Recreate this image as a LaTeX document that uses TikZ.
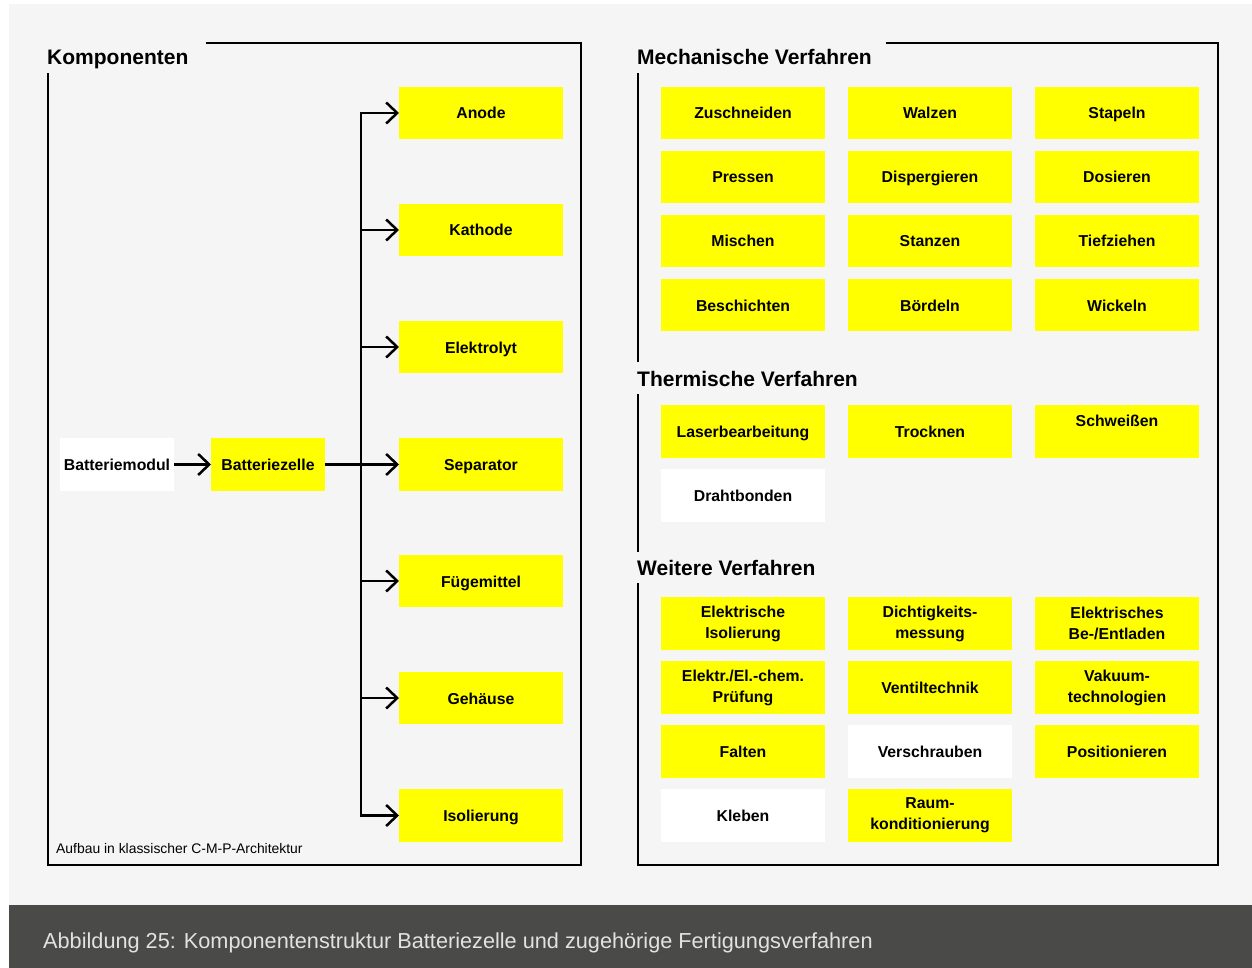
\documentclass[tikz,border=0pt]{standalone}
\usepackage{fontspec}
\setmainfont{Liberation Sans}
\usetikzlibrary{arrows.meta}
\definecolor{pagebg}{HTML}{F5F5F5}
\definecolor{capbg}{HTML}{4A4A48}
\definecolor{captext}{HTML}{E2E2E2}
\definecolor{hl}{HTML}{FFFF00}

\begin{document}
\begin{tikzpicture}[x=1pt,y=-1pt,
  box/.style={inner sep=0pt, outer sep=0pt, minimum width=164pt, minimum height=52.5pt,
    align=center, text height=12pt, text depth=0pt,
    font=\fontsize{15.8}{21}\selectfont\bfseries},
  multi/.style={text height=, text depth=},
  yel/.style={box, fill=hl},
  wht/.style={box, fill=white},
  smallbox/.style={minimum width=114pt},
  heading/.style={inner sep=0pt, anchor=base west, font=\fontsize{21}{24}\selectfont\bfseries},
  frameline/.style={line width=2.6pt, line join=miter},
  conn/.style={line width=2.5pt, line join=miter,
    -{Straight Barb[length=11pt,width=21pt]}}
]
% canvas, panel and caption bar
\useasboundingbox (0,0) rectangle (1252,968);
\fill[white] (0,0) rectangle (1252,968);
\fill[pagebg] (9,4) rectangle (1252,905);
\fill[capbg] (9,905) rectangle (1252,968);
\node[inner sep=0pt, anchor=base west, text=captext, font=\fontsize{21.7}{24}\selectfont]
  (caption) at (43,948) {Abbildung 25: Komponentenstruktur Batteriezelle und zugehörige Fertigungsverfahren};

% ---------- left panel: components ----------
\draw[frameline] (206,43) -- (581,43) -- (581,865) -- (48,865) -- (48,73);
\node[heading] (hkomp) at (47,65) {Komponenten};
\node[inner sep=0pt, anchor=base west, font=\fontsize{13.9}{16}\selectfont]
  (note) at (56,853) {Aufbau in klassischer C-M-P-Architektur};

\node[wht, smallbox] (modul) at (117,464.5) {Batteriemodul};
\node[yel, smallbox] (zelle) at (268,464.5) {Batteriezelle};

\node[yel] (anode)   at (481,113) {Anode};
\node[yel] (kathode) at (481,230) {Kathode};
\node[yel] (elyt)    at (481,347) {Elektrolyt};
\node[yel] (sep)     at (481,464.5) {Separator};
\node[yel] (fuege)   at (481,581) {Fügemittel};
\node[yel] (gehaeuse) at (481,698) {Gehäuse};
\node[yel] (iso)     at (481,815.5) {Isolierung};

\coordinate (trunk) at (361,464.5);
\draw[conn] (modul.east) -- (zelle.west);
\draw[conn] (zelle.east) -- (sep.west);
\foreach \t in {anode,kathode,elyt,fuege,gehaeuse,iso}
  \draw[conn] (zelle.east -| trunk) |- (\t.west);

% ---------- right panel: processes ----------
\draw[frameline] (886,43) -- (1218,43) -- (1218,865) -- (638,865) -- (638,583);
\draw[frameline] (638,552) -- (638,394);
\draw[frameline] (638,362) -- (638,73);
\node[heading] (hmech)  at (637,65)  {Mechanische Verfahren};
\node[heading] (htherm) at (637,386) {Thermische Verfahren};
\node[heading] (hweit)  at (637,575) {Weitere Verfahren};

% mechanical
\node[yel] (m11) at (743,113) {Zuschneiden};
\node[yel] (m12) at (930,113) {Walzen};
\node[yel] (m13) at (1117,113) {Stapeln};
\node[yel] (m21) at (743,177) {Pressen};
\node[yel] (m22) at (930,177) {Dispergieren};
\node[yel] (m23) at (1117,177) {Dosieren};
\node[yel] (m31) at (743,241) {Mischen};
\node[yel] (m32) at (930,241) {Stanzen};
\node[yel] (m33) at (1117,241) {Tiefziehen};
\node[yel] (m41) at (743,305) {Beschichten};
\node[yel] (m42) at (930,305) {Bördeln};
\node[yel] (m43) at (1117,305) {Wickeln};

% thermal
\node[yel] (t11) at (743,431.5) {Laserbearbeitung};
\node[yel] (t12) at (930,431.5) {Trocknen};
\node[yel, multi] (t13) at (1117,431.5) {Schweißen\\\mbox{}};
\node[wht] (t21) at (743,495.5) {Drahtbonden};

% further
\node[yel, multi] (w11) at (743,623.5) {Elektrische\\Isolierung};
\node[yel, multi] (w12) at (930,623.5) {Dichtigkeits-\\messung};
\node[yel, multi] (w13) at (1117,623.5) {Elektrisches\\Be-/Entladen};
\node[yel, multi] (w21) at (743,687.5) {Elektr./El.-chem.\\Prüfung};
\node[yel] (w22) at (930,687.5) {Ventiltechnik};
\node[yel, multi] (w23) at (1117,687.5) {Vakuum-\\technologien};
\node[yel] (w31) at (743,751.5) {Falten};
\node[wht] (w32) at (930,751.5) {Verschrauben};
\node[yel] (w33) at (1117,751.5) {Positionieren};
\node[wht] (w41) at (743,815.5) {Kleben};
\node[yel, multi] (w42) at (930,815.5) {Raum-\\konditionierung};
\end{tikzpicture}
\end{document}
